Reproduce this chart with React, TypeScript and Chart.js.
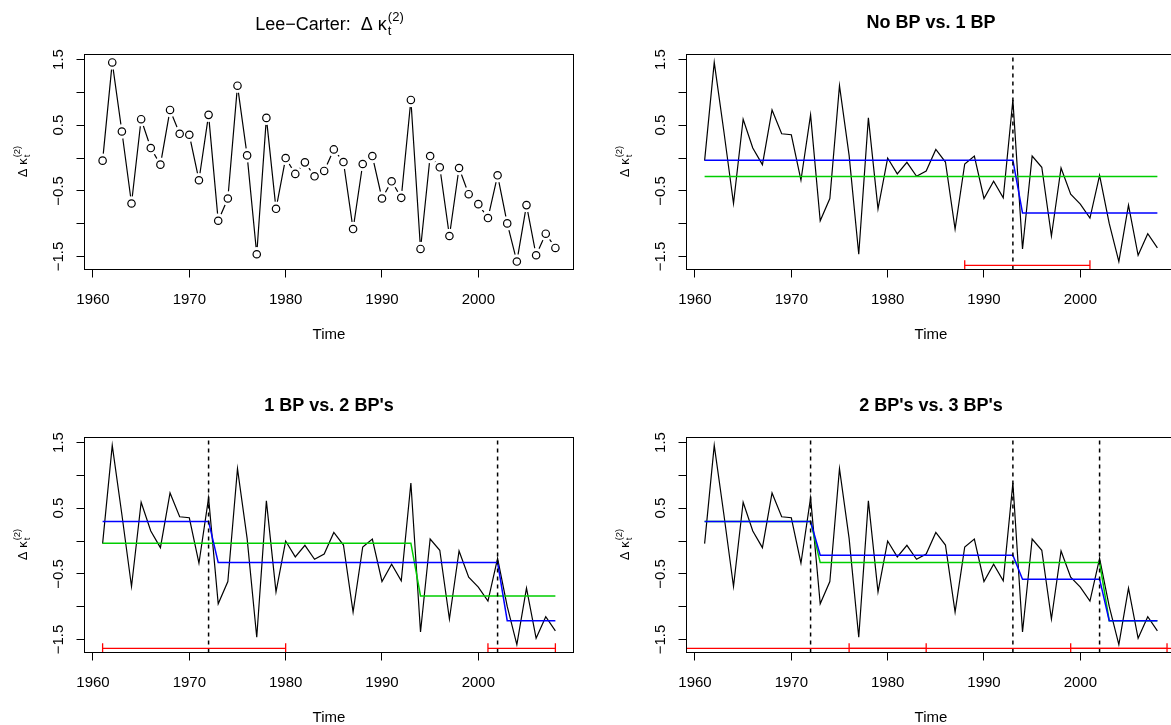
import React, { useEffect, useRef } from "react";
import { Chart, registerables } from "chart.js";

Chart.register(...registerables);

const FONT = '"Liberation Sans", Arial, Helvetica, sans-serif';
const PANEL_W = 602;
const PANEL_H = 383;

// ---- data ----
const years = [
  1961, 1962, 1963, 1964, 1965, 1966, 1967, 1968, 1969, 1970,
  1971, 1972, 1973, 1974, 1975, 1976, 1977, 1978, 1979, 1980,
  1981, 1982, 1983, 1984, 1985, 1986, 1987, 1988, 1989, 1990,
  1991, 1992, 1993, 1994, 1995, 1996, 1997, 1998, 1999, 2000,
  2001, 2002, 2003, 2004, 2005, 2006, 2007, 2008,
];
const deltaKappa = [
  -0.04, 1.455, 0.404, -0.692, 0.591, 0.152, -0.101, 0.732, 0.369, 0.354,
  -0.338, 0.657, -0.955, -0.616, 1.101, 0.04, -1.465, 0.611, -0.773, 0.0,
  -0.242, -0.066, -0.278, -0.197, 0.131, -0.061, -1.081, -0.091, 0.03, -0.616,
  -0.354, -0.606, 0.884, -1.384, 0.03, -0.141, -1.187, -0.152, -0.551, -0.702,
  -0.914, -0.263, -0.995, -1.576, -0.717, -1.48, -1.152, -1.369,
];

const xTicks = [1960, 1970, 1980, 1990, 2000];
const yTicks = [-1.5, -1.0, -0.5, 0, 0.5, 1.0, 1.5];
const yTickLabels = ["\u22121.5", "", "\u22120.5", "", "0.5", "", "1.5"];
const xLimits = [1959.12, 2009.88];
const yLimits = [-1.697, 1.576];

const panelTitles = ["Lee\u2212Carter:  \u0394 \u03BA", "No BP vs. 1 BP", "1 BP vs. 2 BP's", "2 BP's vs. 3 BP's"];
const xTitle = "Time";
const yTitlePrefix = "\u0394 \u03BA";

// fitted segment levels
const noBpBreaks: number[] = [];
const noBpLevels = [-0.283];
const oneBpBreaks = [1993];
const oneBpLevels = [-0.033, -0.836];
const twoBpBreaks = [1972, 2002];
const twoBpLevels = [0.298, -0.328, -1.212];
const threeBpBreaks = [1972, 1993, 2002];
const threeBpLevels = [0.298, -0.217, -0.581, -1.212];

// breakpoint confidence intervals
const ciOneBp = [[1988, 2001]];
const ciTwoBp = [[1961, 1980], [2001, 2008]];
const ciThreeBp = [[1950, 1984], [1976, 2009], [1999, 2015]];
const ciLevel = -1.634;

const GREEN = "#00CD00";
const BLUE = "#0000FF";
const RED = "#FF0000";

function stepFit(breaks: number[], levels: number[]) {
  return years.map((yr) => {
    let k = 0;
    while (k < breaks.length && yr > breaks[k]) k++;
    return { x: yr, y: levels[k] };
  });
}

const seriesPoints = () => years.map((yr, i) => ({ x: yr, y: deltaKappa[i] }));

function drawExpr(ctx: CanvasRenderingContext2D, prefix: string, size: number, bold: boolean, cx: number, cy: number) {
  const main = `${bold ? "bold " : ""}${size}px ${FONT}`;
  const small = `${(size * 0.72).toFixed(1)}px ${FONT}`;
  ctx.font = main;
  const w1 = ctx.measureText(prefix).width;
  ctx.font = small;
  const wt = ctx.measureText("t").width;
  const w2 = ctx.measureText("(2)").width;
  const total = w1 + Math.max(wt, w2);
  let x = cx - total / 2;
  ctx.textAlign = "left";
  ctx.textBaseline = "alphabetic";
  ctx.font = main;
  ctx.fillText(prefix, x, cy);
  x += w1 + 1;
  ctx.font = small;
  ctx.fillText("t", x, cy + size * 0.28);
  ctx.fillText("(2)", x, cy - size * 0.5);
}

function makeDecor(idx: number) {
  return {
    id: "decor" + idx,
    afterDraw(chart: any) {
      const ctx: CanvasRenderingContext2D = chart.ctx;
      const a = chart.chartArea;
      const xs = chart.scales.x;
      const ys = chart.scales.y;
      ctx.save();
      ctx.strokeStyle = "#000";
      ctx.lineWidth = 1;
      ctx.strokeRect(a.left, a.top, a.right - a.left, a.bottom - a.top);
      ctx.fillStyle = "#000";
      const cx = (a.left + a.right) / 2;
      const cy = (a.top + a.bottom) / 2;
      if (idx === 0) {
        drawExpr(ctx, panelTitles[0], 18, false, cx, 30);
      } else {
        ctx.font = `bold 18px ${FONT}`;
        ctx.textAlign = "center";
        ctx.textBaseline = "alphabetic";
        ctx.fillText(panelTitles[idx], cx, 27.5);
      }
      ctx.font = `15px ${FONT}`;
      ctx.textAlign = "center";
      ctx.textBaseline = "alphabetic";
      xs.ticks.forEach((t: any) => {
        ctx.fillText(String(t.value), xs.getPixelForValue(t.value), a.bottom + 34.5);
      });
      ys.ticks.forEach((t: any) => {
        const i = yTicks.indexOf(t.value);
        const lab = i >= 0 ? yTickLabels[i] : "";
        if (!lab) return;
        ctx.save();
        ctx.translate(a.left - 21.5, ys.getPixelForValue(t.value));
        ctx.rotate(-Math.PI / 2);
        ctx.fillText(lab, 0, 0);
        ctx.restore();
      });
      ctx.fillText(xTitle, cx, a.bottom + 69.5);
      ctx.save();
      ctx.translate(a.left - 58, cy);
      ctx.rotate(-Math.PI / 2);
      drawExpr(ctx, yTitlePrefix, 13, false, 0, 0);
      ctx.restore();
      ctx.restore();
    },
  };
}

function buildDatasets(idx: number) {
  const ds: any[] = [];
  const base = { pointRadius: 0, tension: 0, fill: false };
  if (idx === 0) {
    ds.push({ ...base, data: seriesPoints(), borderColor: "#000", borderWidth: 1.2, order: 5 });
    ds.push({ ...base, data: seriesPoints(), showLine: false, pointRadius: 7.2, pointBorderWidth: 0, pointBackgroundColor: "#fff", pointBorderColor: "#fff", order: 4 });
    ds.push({ ...base, data: seriesPoints(), showLine: false, pointRadius: 3.7, pointBorderWidth: 1.2, pointBackgroundColor: "rgba(0,0,0,0)", pointBorderColor: "#000", order: 3 });
    return ds;
  }
  ds.push({ ...base, data: seriesPoints(), borderColor: "#000", borderWidth: 1.2, order: 6 });
  let green: any, blue: any, vlines: number[], cis: number[][];
  if (idx === 1) {
    green = stepFit(noBpBreaks, noBpLevels);
    blue = stepFit(oneBpBreaks, oneBpLevels);
    vlines = oneBpBreaks;
    cis = ciOneBp;
  } else if (idx === 2) {
    green = stepFit(oneBpBreaks, oneBpLevels);
    blue = stepFit(twoBpBreaks, twoBpLevels);
    vlines = twoBpBreaks;
    cis = ciTwoBp;
  } else {
    green = stepFit(twoBpBreaks, twoBpLevels);
    blue = stepFit(threeBpBreaks, threeBpLevels);
    vlines = threeBpBreaks;
    cis = ciThreeBp;
  }
  ds.push({ ...base, data: green, borderColor: GREEN, borderWidth: 1.5, order: 5 });
  ds.push({ ...base, data: blue, borderColor: BLUE, borderWidth: 1.5, order: 4 });
  vlines.forEach((b) => {
    ds.push({ ...base, data: [{ x: b, y: yLimits[0] }, { x: b, y: yLimits[1] }], borderColor: "#000", borderWidth: 1.5, borderDash: [4, 4], order: 2 });
  });
  cis.forEach((c) => {
    ds.push({
      ...base,
      data: [{ x: c[0], y: ciLevel }, { x: c[1], y: ciLevel }],
      borderColor: RED,
      borderWidth: 1.3,
      pointRadius: 5,
      pointStyle: "line",
      rotation: 90,
      pointBorderColor: RED,
      pointBorderWidth: 1.3,
      order: 1,
    });
  });
  return ds;
}

function Panel({ idx, left, top }: { idx: number; left: number; top: number }) {
  const ref = useRef<HTMLCanvasElement | null>(null);
  useEffect(() => {
    if (!ref.current) return;
    const chart = new Chart(ref.current, {
      type: "line",
      data: { datasets: buildDatasets(idx) },
      options: {
        animation: false,
        responsive: false,
        devicePixelRatio: 1,
        events: [],
        layout: { padding: { left: 0, top: 54.5, right: PANEL_W - 573.5, bottom: PANEL_H - 269.5 - 60 } },
        plugins: { legend: { display: false }, tooltip: { enabled: false }, title: { display: false } },
        scales: {
          x: {
            type: "linear",
            min: xLimits[0],
            max: xLimits[1],
            afterBuildTicks: (s: any) => {
              s.ticks = xTicks.map((v) => ({ value: v }));
            },
            afterFit: (s: any) => {
              s.height = 60;
            },
            ticks: { display: false },
            grid: { drawOnChartArea: false, drawTicks: true, tickLength: 8, color: "#000", lineWidth: 1 },
            border: { display: false },
          },
          y: {
            type: "linear",
            min: yLimits[0],
            max: yLimits[1],
            afterBuildTicks: (s: any) => {
              s.ticks = yTicks.map((v) => ({ value: v }));
            },
            afterFit: (s: any) => {
              s.width = 84.5;
            },
            ticks: { display: false },
            grid: { drawOnChartArea: false, drawTicks: true, tickLength: 8, color: "#000", lineWidth: 1 },
            border: { display: false },
          },
        },
      } as any,
      plugins: [makeDecor(idx)],
    });
    return () => chart.destroy();
  }, [idx]);
  return (
    <canvas
      ref={ref}
      width={PANEL_W}
      height={PANEL_H}
      style={{ position: "absolute", left, top, width: PANEL_W, height: PANEL_H }}
    />
  );
}

export default function App() {
  return (
    <div
      style={{
        position: "fixed",
        left: 0,
        top: 0,
        width: 1171,
        height: 725,
        overflow: "hidden",
        background: "#fff",
      }}
    >
      <Panel idx={0} left={0} top={0} />
      <Panel idx={1} left={PANEL_W} top={0} />
      <Panel idx={2} left={0} top={PANEL_H} />
      <Panel idx={3} left={PANEL_W} top={PANEL_H} />
    </div>
  );
}
